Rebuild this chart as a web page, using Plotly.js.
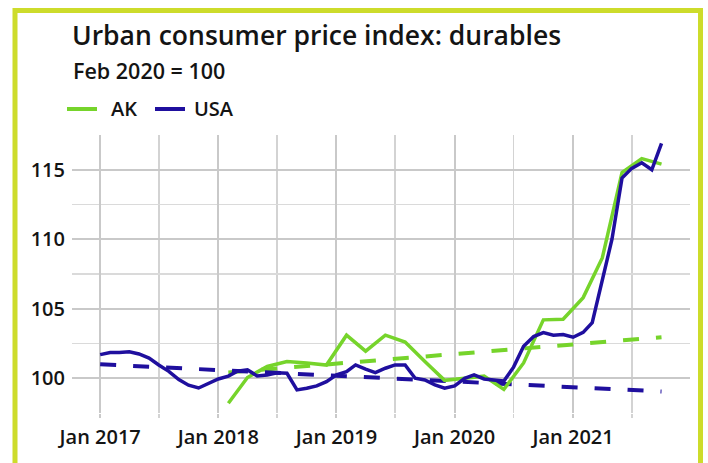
<!DOCTYPE html>
<html>
<head>
<meta charset="utf-8">
<script src="https://cdn.plot.ly/plotly-3.0.1.min.js"></script>
<style>
  html, body { margin: 0; padding: 0; background: #ffffff; }
  #chart { width: 708px; height: 463px; }
</style>
</head>
<body>
<div id="chart"></div>
<script>
// ---- Data ----
const chartTitle = 'Urban consumer price index: durables';
const chartSubtitle = 'Feb 2020 = 100';
const seriesNames = ['AK', 'USA'];

// Alaska (bimonthly), Feb 2020 = 100
const akDates = ['2018-02-01','2018-04-01','2018-06-01','2018-08-01','2018-10-01','2018-12-01',
                 '2019-02-01','2019-04-01','2019-06-01','2019-08-01','2019-10-01','2019-12-01',
                 '2020-02-01','2020-04-01','2020-06-01','2020-08-01','2020-10-01','2020-12-01',
                 '2021-02-01','2021-04-01','2021-06-01','2021-08-01','2021-10-01'];
const akValues = [98.2, 100.05, 100.85, 101.2, 101.1, 100.95,
                  103.1, 101.95, 103.1, 102.6, 101.2, 99.85,
                  100.0, 100.15, 99.2, 101.1, 104.2, 104.25,
                  105.8, 108.65, 114.8, 115.8, 115.4];

// USA (monthly), Feb 2020 = 100
const usaDates = ['2017-01-01','2017-02-01','2017-03-01','2017-04-01','2017-05-01','2017-06-01',
                  '2017-07-01','2017-08-01','2017-09-01','2017-10-01','2017-11-01','2017-12-01',
                  '2018-01-01','2018-02-01','2018-03-01','2018-04-01','2018-05-01','2018-06-01',
                  '2018-07-01','2018-08-01','2018-09-01','2018-10-01','2018-11-01','2018-12-01',
                  '2019-01-01','2019-02-01','2019-03-01','2019-04-01','2019-05-01','2019-06-01',
                  '2019-07-01','2019-08-01','2019-09-01','2019-10-01','2019-11-01','2019-12-01',
                  '2020-01-01','2020-02-01','2020-03-01','2020-04-01','2020-05-01','2020-06-01',
                  '2020-07-01','2020-08-01','2020-09-01','2020-10-01','2020-11-01','2020-12-01',
                  '2021-01-01','2021-02-01','2021-03-01','2021-04-01','2021-05-01','2021-06-01',
                  '2021-07-01','2021-08-01','2021-09-01','2021-10-01'];
const usaValues = [101.7, 101.85, 101.85, 101.9, 101.75, 101.45, 100.95, 100.5, 99.9, 99.5, 99.3, 99.65,
                   99.95, 100.15, 100.5, 100.6, 100.17, 100.24, 100.4, 100.36, 99.16, 99.28, 99.45, 99.76,
                   100.24, 100.48, 100.96, 100.65, 100.4, 100.72, 100.96, 100.96, 100.0, 99.88, 99.52, 99.28,
                   99.45, 100.0, 100.24, 99.95, 99.88, 99.8, 100.8, 102.3, 103.0, 103.28, 103.1, 103.15,
                   102.95, 103.3, 104.0, 107.0, 110.0, 114.4, 115.1, 115.5, 115.0, 116.9];

// Pre-pandemic trend lines (dashed)
const akTrendDates = ['2018-02-01', '2021-10-01'];
const akTrendValues = [100.42, 102.95];
const usaTrendDates = ['2017-01-01', '2021-10-01'];
const usaTrendValues = [101.0, 99.05];

// ---- Styles ----
const AK_COLOR = '#76d42b';
const USA_COLOR = '#1f0f9e';
const FRAME_COLOR = '#cddc2b';
const FONT = '"Open Sans", "DejaVu Sans", sans-serif';
const TEXT_COLOR = '#141414';
const WEIGHT = 540;

// plot area in pixels (for placing decorative items)
const W = 708, H = 463, ML = 72, MR = 18, MT = 135, MB = 50;
const PW = W - ML - MR, PH = H - MT - MB;
const px = v => (v - ML) / PW;          // page x -> paper x
const py = v => (H - MB - v) / PH;      // page y -> paper y

const traces = [
  { x: akTrendDates, y: akTrendValues, type: 'scatter', mode: 'lines', name: 'AK trend',
    line: { color: AK_COLOR, width: 4, dash: '16px,17px' }, showlegend: false, hoverinfo: 'skip' },
  { x: usaTrendDates, y: usaTrendValues, type: 'scatter', mode: 'lines', name: 'USA trend',
    line: { color: USA_COLOR, width: 4, dash: '16px,17px' }, showlegend: false, hoverinfo: 'skip' },
  { x: akDates, y: akValues, type: 'scatter', mode: 'lines', name: seriesNames[0],
    line: { color: AK_COLOR, width: 3.5 } },
  { x: usaDates, y: usaValues, type: 'scatter', mode: 'lines', name: seriesNames[1],
    line: { color: USA_COLOR, width: 3.5 } }
];

const tfont = (size) => ({ family: FONT, size: size, color: TEXT_COLOR, weight: WEIGHT });

const layout = {
  width: W, height: H,
  margin: { l: ML, r: MR, t: MT, b: MB, pad: 0 },
  paper_bgcolor: '#ffffff', plot_bgcolor: '#ffffff',
  showlegend: false,
  hovermode: false,
  font: { family: FONT, color: TEXT_COLOR },
  title: {
    text: chartTitle,
    font: tfont(26.5),
    xref: 'container', yref: 'container',
    x: 72 / W, xanchor: 'left',
    y: 1 - 36 / H, yanchor: 'middle'
  },
  xaxis: {
    type: 'date',
    range: ['2016-10-06', '2021-12-28'],
    tick0: '2017-01-01', dtick: 'M12', tickformat: '%b %Y',
    showgrid: true, gridcolor: '#c9c9c9', gridwidth: 2,
    ticks: 'outside', ticklen: 4, tickwidth: 2, tickcolor: '#c9c9c9',
    minor: { tick0: '2017-01-01', dtick: 'M6', showgrid: true, gridcolor: '#d3d3d3', gridwidth: 1.6,
             ticks: 'outside', ticklen: 4, tickwidth: 1.6, tickcolor: '#d3d3d3' },
    tickfont: tfont(20),
    ticklabelstandoff: 2,
    zeroline: false, showline: false, fixedrange: true
  },
  yaxis: {
    range: [97.5, 117.5],
    tick0: 0, dtick: 5,
    showgrid: true, gridcolor: '#c9c9c9', gridwidth: 2,
    minor: { tick0: 0, dtick: 2.5, showgrid: true, gridcolor: '#dadada', gridwidth: 1.6 },
    ticks: '',
    tickfont: tfont(20),
    ticklabelstandoff: 6,
    zeroline: false, showline: false, fixedrange: true
  },
  annotations: [
    { text: chartSubtitle, xref: 'paper', yref: 'paper', x: px(71), y: py(70.5),
      xanchor: 'left', yanchor: 'middle', showarrow: false, font: tfont(21.5) },
    { text: seriesNames[0], xref: 'paper', yref: 'paper', x: px(109), y: py(109),
      xanchor: 'left', yanchor: 'middle', showarrow: false, font: tfont(20) },
    { text: seriesNames[1], xref: 'paper', yref: 'paper', x: px(192), y: py(109),
      xanchor: 'left', yanchor: 'middle', showarrow: false, font: tfont(20) }
  ],
  shapes: [
    // legend keys
    { type: 'line', xref: 'paper', yref: 'paper', x0: px(67), x1: px(97), y0: py(109), y1: py(109),
      line: { color: AK_COLOR, width: 4 } },
    { type: 'line', xref: 'paper', yref: 'paper', x0: px(155), x1: px(185), y0: py(109), y1: py(109),
      line: { color: USA_COLOR, width: 4 } },
    // outer frame (open at the bottom)
    { type: 'path', xref: 'paper', yref: 'paper',
      path: 'M ' + px(15) + ',' + py(500) + ' L ' + px(15) + ',' + py(10.5) +
            ' L ' + px(700.5) + ',' + py(10.5) + ' L ' + px(700.5) + ',' + py(500),
      line: { color: FRAME_COLOR, width: 5 } }
  ]
};

Plotly.newPlot('chart', traces, layout, { displayModeBar: false, staticPlot: true });
</script>
</body>
</html>
